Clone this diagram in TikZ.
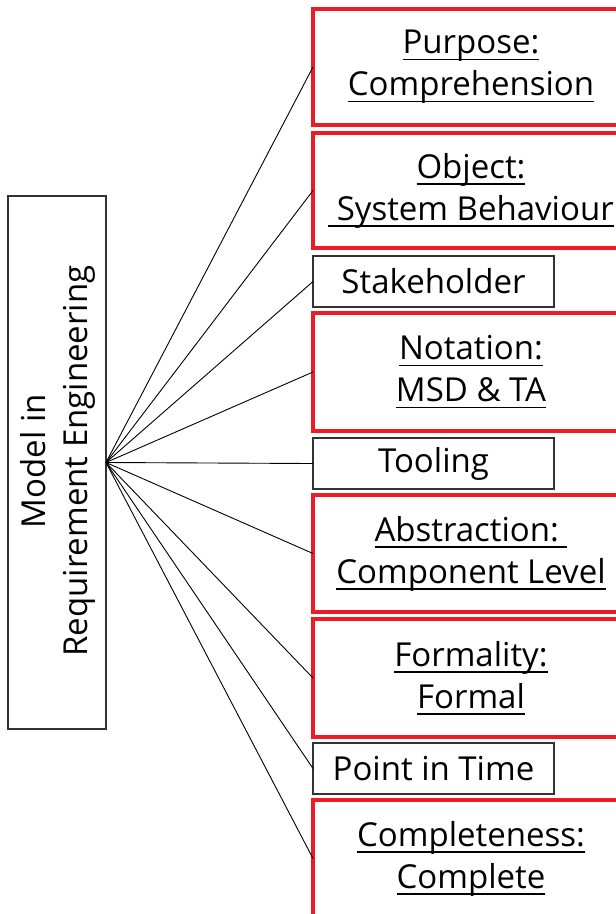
\documentclass[tikz,border=0pt]{standalone}
\usepackage{fontspec}
\setmainfont{Open Sans}
\definecolor{boxred}{RGB}{237,28,36}
\definecolor{boxgray}{RGB}{50,50,50}
\newsavebox{\ulbox}
\newcommand{\ulx}[1]{\sbox{\ulbox}{#1}\rlap{\vrule width\wd\ulbox height -5pt depth 6.5pt}\usebox{\ulbox}}
\begin{document}
\begin{tikzpicture}[x=1pt,y=-1pt,
  every node/.style={font=\fontsize{33}{42}\selectfont, inner sep=0pt, outer sep=0pt, align=center},
  redbox/.style={draw=boxred, line width=4pt, rectangle, anchor=north west, minimum width=316pt},
  graybox/.style={draw=boxgray, line width=1.5pt, rectangle, anchor=north west, minimum width=241pt, minimum height=51pt},
  link/.style={draw=black, line width=0.9pt}]
\useasboundingbox (0,0) rectangle (616,914);
\clip (0,0) rectangle (616,914);
\fill[white] (0,0) rectangle (616,914);
\node[draw=boxgray, line width=1.5pt, minimum width=98pt, minimum height=533pt] (model) at (57,462.5) {};
\node[rotate=90] (modeltext) at (58,461) {Model in\\Requirement Engineering};

\node[redbox, minimum height=116pt] (purpose) at (313,9) {\ulx{Purpose:}\\\ulx{Comprehension}};
\node[redbox, minimum height=115pt] (object) at (313,133) {\ulx{Object:}\\\ulx{\ System Behaviour}};
\node[graybox] (stake) at (313,256) {Stakeholder};
\node[redbox, minimum height=118pt] (notation) at (313,313) {\ulx{Notation:}\\\ulx{MSD \& TA}};
\node[graybox] (tooling) at (313,438) {Tooling};
\node[redbox, minimum height=117pt] (abstraction) at (313,495) {\ulx{Abstraction:\ }\\\ulx{Component Level}};
\node[redbox, minimum height=118pt] (formality) at (313,619) {\ulx{Formality:}\\\ulx{Formal}};
\node[graybox] (pit) at (313,743) {Point in Time};
\node[redbox, minimum height=117pt] (complete) at (313,800) {\ulx{Completeness:}\\\ulx{Complete}};

\foreach \n in {purpose,object,stake,notation,tooling,abstraction,formality,pit,complete}
  \draw[link] (model.east) -- (\n.west);
\end{tikzpicture}
\end{document}
